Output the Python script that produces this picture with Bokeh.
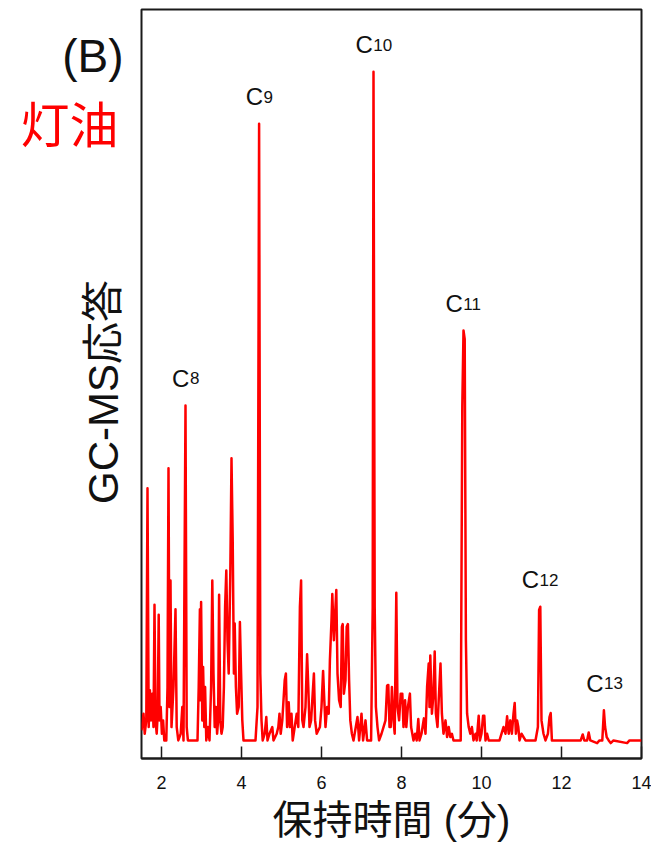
import math
from bokeh.plotting import figure
from bokeh.layouts import row
from bokeh.models import Range1d, FixedTicker, ColumnDataSource
from bokeh.core.properties import value
from bokeh.embed import file_html
from bokeh.resources import INLINE

# ---- data (retention time in min, relative response, C10 = 100) ----
ret_time = [
    1.50, 1.55, 1.58, 1.62, 1.65, 1.68, 1.71, 1.74, 1.77, 1.80, 1.825, 1.85, 1.88, 1.905, 1.93, 1.95,
    1.98, 2.01, 2.04, 2.07, 2.12, 2.15, 2.175, 2.20, 2.225, 2.25, 2.30, 2.35, 2.38, 2.42, 2.48, 2.52,
    2.55, 2.60, 2.63, 2.66,
    2.90, 2.93, 2.96, 2.975, 2.99, 3.02, 3.04, 3.07, 3.09, 3.12, 3.16, 3.20, 3.24, 3.27, 3.30, 3.33,
    3.36, 3.39, 3.415, 3.44, 3.47, 3.50, 3.53, 3.56, 3.59, 3.62, 3.65, 3.68, 3.72, 3.75, 3.78, 3.81,
    3.83, 3.86, 3.89, 3.93, 3.96, 3.99, 4.02, 4.05,
    4.35, 4.40, 4.44, 4.47, 4.50, 4.53, 4.58, 4.62, 4.65, 4.70, 4.77, 4.80, 4.88, 4.92, 4.95, 4.98,
    5.02, 5.08, 5.11, 5.14, 5.18, 5.21, 5.25, 5.28, 5.33, 5.38, 5.42, 5.46, 5.49, 5.52, 5.55, 5.60,
    5.64, 5.67, 5.70, 5.74, 5.78, 5.81, 5.84, 5.88, 5.96, 6.00, 6.04, 6.07, 6.10, 6.14, 6.18, 6.21,
    6.25, 6.27, 6.31, 6.35, 6.37, 6.40, 6.44, 6.48, 6.51, 6.53, 6.56, 6.60, 6.63, 6.66, 6.69, 6.72,
    6.76, 6.80, 6.90, 6.94, 7.00, 7.04, 7.10, 7.14, 7.24,
    7.28, 7.30, 7.33, 7.36, 7.40, 7.44, 7.50, 7.55, 7.60, 7.64, 7.67, 7.70, 7.73, 7.76, 7.80, 7.83,
    7.87, 7.90, 7.94, 7.98, 8.02, 8.05, 8.09, 8.12, 8.16, 8.21, 8.24, 8.30, 8.34, 8.38, 8.42, 8.45,
    8.50, 8.56, 8.60, 8.64, 8.68, 8.70, 8.72, 8.76, 8.80, 8.83, 8.86, 8.90, 8.93, 8.975, 9.01, 9.05,
    9.10, 9.14, 9.18, 9.22, 9.26, 9.30, 9.40, 9.48,
    9.52, 9.55, 9.58, 9.61, 9.64, 9.68, 9.72, 9.76, 9.80, 9.85, 9.88, 9.93, 9.96, 10.00, 10.04, 10.07,
    10.10, 10.14, 10.18, 10.25, 10.35, 10.45, 10.55, 10.60, 10.64, 10.68, 10.72, 10.76, 10.80, 10.83,
    10.86, 10.89, 10.92, 10.95, 11.00, 11.10, 11.20, 11.35, 11.41, 11.44, 11.47, 11.50, 11.55, 11.60,
    11.66, 11.70, 11.73, 11.76, 11.80, 12.00, 12.30, 12.48, 12.53, 12.57, 12.64, 12.68, 12.72, 12.89,
    12.95, 13.02, 13.06, 13.09, 13.13, 13.18, 13.23, 13.30, 13.64, 13.70, 14.00,
]
response = [
    1.5, 4, 1, 3, 37.7, 2, 7.5, 3, 7, 2, 20.3, 3, 1, 4, 18.8, 3,
    5, 1, 3, 0, 0, 8, 40.7, 5, 23.9, 2, 8, 19.6, 2, 0, 1, 5,
    0, 50.1, 2, 0,
    0, 8, 19.6, 6, 20.7, 3, 11, 2, 8, 0, 2, 0, 8, 23.9, 10, 2,
    5, 1, 3, 21.8, 3, 1, 2, 8, 20, 25.4, 15, 10, 25, 42.2, 30, 10,
    17.5, 8, 4, 5, 17.7, 10, 3, 0,
    0, 5, 92.2, 10, 3, 0, 1, 3.5, 0, 1, 2, 0, 1, 2, 4, 1,
    3, 9, 10, 2, 5.7, 2, 4, 0, 2, 4, 2, 20, 23.9, 3, 2, 5,
    12.9, 8, 2, 3, 7, 10, 3, 1, 2, 5, 10.4, 6, 2, 5, 4, 12,
    18, 21.9, 15, 20, 22.5, 10, 6, 5, 17, 17.4, 7, 9, 17, 17.4, 9, 3,
    1, 0, 3.5, 0, 4, 0, 3, 0, 0,
    20, 100, 20, 5, 2, 0, 1, 2, 3, 8.2, 8.3, 2, 2, 8, 3, 1,
    22.1, 5, 3, 7, 7, 2, 6, 2, 5, 7, 2, 0, 1, 0, 3.2, 0,
    1, 3.3, 1, 8, 11.5, 5, 12.7, 4, 7, 13.3, 4, 2, 6, 11.5, 4, 1,
    3, 0.5, 2, 0.5, 1, 0, 0, 0,
    50, 61.3, 60, 15, 4, 2, 1, 2, 0, 1, 0, 3.7, 0, 1, 3.7, 3.7,
    0, 1, 0, 0, 0, 0, 2, 1, 3.6, 1, 3, 1, 4, 5.6,
    1, 3, 2, 0, 1, 0, 0, 0, 2, 19.5, 20, 3, 1, 0,
    1, 3.5, 4.1, 0, 0, 0, 0, 0, 0.9, 0, 0, 1.2, 0, -0.4,
    0, 0, 4.5, 2, 0.5, 0, -0.4, 0, -0.4, 0, 0,
]

# n-alkane peaks that are labelled
alkane_rt = [2.60, 4.44, 7.30, 9.55, 11.46, 13.07]
alkane_h = [50.1, 92.2, 100.0, 61.3, 20.0, 4.5]
alkane_num = ["8", "9", "10", "11", "12", "13"]

x_ticks = [2, 4, 6, 8, 10, 12, 14]

panel_tag = "(B)"
sample_name = "灯油"
y_title = "GC-MS応答"
x_title = "保持時間 (分)"

LATIN = "Liberation Sans"
CJK = "Noto Sans CJK JP"
MIXED = "Liberation Sans, Noto Sans CJK JP"
INK = "#111111"

# ---------------- main chromatogram ----------------
p = figure(width=511, height=846, output_backend="svg", toolbar_location=None,
           x_range=Range1d(1.5, 14.0), y_range=Range1d(-2.7, 109.3),
           y_axis_location=None,
           min_border_left=1, min_border_right=10, min_border_top=9, min_border_bottom=88)
p.background_fill_color = "white"
p.border_fill_color = "white"
p.outline_line_color = "#1a1a1a"
p.outline_line_width = 2
p.xgrid.visible = False
p.ygrid.visible = False

ax = p.xaxis[0]
ax.ticker = FixedTicker(ticks=x_ticks)
ax.axis_line_color = "#1a1a1a"
ax.axis_line_width = 2
ax.major_tick_in = 12
ax.major_tick_out = 0
ax.major_tick_line_width = 1.5
ax.major_tick_line_color = "#1a1a1a"
ax.minor_tick_line_color = None
ax.major_label_text_font = LATIN
ax.major_label_text_font_size = "18px"
ax.major_label_text_color = INK
ax.major_label_standoff = 17
ax.axis_label = x_title
ax.axis_label_text_font = MIXED
ax.axis_label_text_font_size = "40px"
ax.axis_label_text_font_style = "normal"
ax.axis_label_text_color = INK
ax.axis_label_standoff = 6

p.line(ret_time, response, line_color="#ff0000", line_width=2.5, line_join="round")

# peak labels "C" + smaller carbon number
c_w = 0.722 * 24
d_w = 0.556 * 17
c_off = []
n_off = []
for n in alkane_num:
    total = c_w + d_w * len(n)
    c_off.append(-total / 2)
    n_off.append(-total / 2 + c_w + 0.5)
src = ColumnDataSource(dict(x=alkane_rt, y=alkane_h, c=["C"] * len(alkane_num), n=alkane_num,
                            cx=c_off, nx=n_off))
p.text(x="x", y="y", text="c", source=src, x_offset="cx", y_offset=-27,
       text_font=value(LATIN), text_font_size="24px", text_color=INK,
       text_align="left", text_baseline="alphabetic")
p.text(x="x", y="y", text="n", source=src, x_offset="nx", y_offset=-27,
       text_font=value(LATIN), text_font_size="17px", text_color=INK,
       text_align="left", text_baseline="alphabetic")

# ---------------- left strip with panel tag, sample name and y title ----------------
side = figure(width=140, height=846, output_backend="svg", toolbar_location=None,
              x_range=Range1d(0, 140), y_range=Range1d(0, 846),
              x_axis_location=None, y_axis_location=None,
              min_border=0, outline_line_color=None)
side.background_fill_color = "white"
side.border_fill_color = "white"
side.grid.visible = False

side.text(x=[123], y=[793], text=[panel_tag], text_font=value(LATIN), text_font_size="46px",
          text_color=INK, text_align="right", text_baseline="alphabetic")
side.text(x=[118], y=[720], text=[sample_name], text_font=value(CJK), text_font_size="49px",
          text_color="#ff0000", text_align="right", text_baseline="middle")
side.text(x=[103], y=[414], text=[y_title], angle=math.pi / 2, text_font=value(MIXED),
          text_font_size="42px", text_color=INK, text_align="center", text_baseline="middle")

layout = row(side, p)
open("out.html", "w").write(file_html(layout, INLINE))
